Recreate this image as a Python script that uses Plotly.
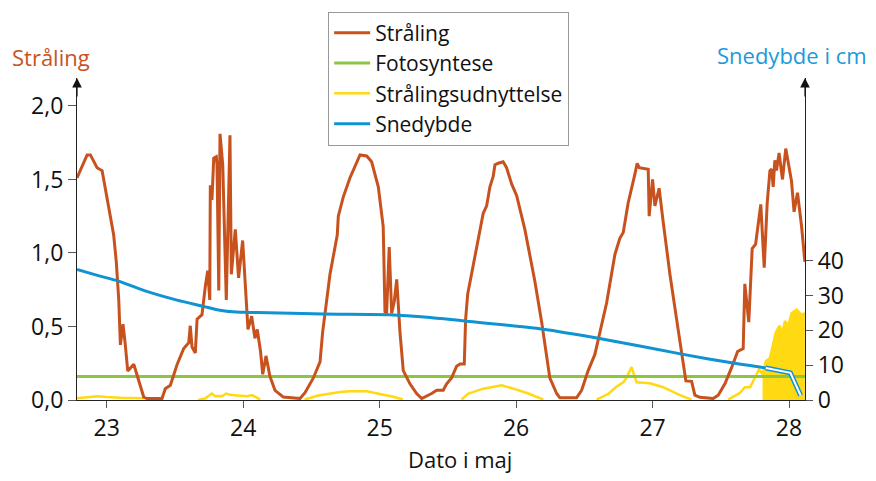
import plotly.graph_objects as go

# ---------------- data ----------------
# Stråling (left axis), x in days of May
straaling_x = [22.782, 22.856, 22.880, 22.929, 22.966, 23.002, 23.051, 23.070, 23.088, 23.100,
               23.119, 23.136, 23.154, 23.198, 23.234, 23.271, 23.295, 23.405, 23.429, 23.466,
               23.515, 23.564, 23.601, 23.612, 23.625, 23.649, 23.662, 23.698, 23.722, 23.740,
               23.755, 23.759, 23.771, 23.784, 23.803, 23.808, 23.821, 23.830, 23.850, 23.876,
               23.903, 23.913, 23.942, 23.966, 23.996, 24.035, 24.062, 24.086, 24.103, 24.127,
               24.143, 24.167, 24.196, 24.233, 24.294, 24.416, 24.453, 24.514, 24.563, 24.582,
               24.636, 24.689, 24.697, 24.733, 24.782, 24.832, 24.856, 24.905, 24.941, 24.990,
               25.026, 25.039, 25.051, 25.070, 25.088, 25.107, 25.125, 25.149, 25.173, 25.222,
               25.271, 25.308, 25.356, 25.381, 25.418, 25.466, 25.491, 25.527, 25.564, 25.588,
               25.620, 25.630, 25.645, 25.674, 25.722, 25.759, 25.784, 25.808, 25.832, 25.845,
               25.869, 25.905, 25.930, 25.967, 26.004, 26.064, 26.137, 26.187, 26.247, 26.297,
               26.321, 26.443, 26.480, 26.528, 26.577, 26.614, 26.663, 26.724, 26.760, 26.785,
               26.821, 26.870, 26.887, 26.902, 26.968, 26.975, 27.000, 27.017, 27.048, 27.078,
               27.127, 27.176, 27.224, 27.244, 27.286, 27.310, 27.347, 27.444, 27.481, 27.530,
               27.579, 27.623, 27.664, 27.676, 27.705, 27.730, 27.755, 27.793, 27.818, 27.840,
               27.860, 27.872, 27.884, 27.896, 27.908, 27.927, 27.952, 27.976, 28.018, 28.037,
               28.062, 28.092, 28.116]
straaling_y = [1.51, 1.667, 1.667, 1.58, 1.56, 1.38, 1.12, 0.94, 0.68, 0.375,
               0.515, 0.375, 0.197, 0.243, 0.13, 0.02, 0.01, 0.01, 0.077, 0.10,
               0.24, 0.35, 0.39, 0.505, 0.36, 0.32, 0.55, 0.58, 0.77, 0.88,
               0.68, 1.46, 1.36, 1.645, 1.655, 1.60, 0.745, 1.81, 1.60, 0.68,
               1.80, 0.855, 1.16, 0.83, 1.085, 0.48, 0.57, 0.42, 0.48, 0.33,
               0.175, 0.30, 0.16, 0.066, 0.02, 0.01, 0.05, 0.15, 0.26, 0.46,
               0.855, 1.12, 1.25, 1.38, 1.51, 1.62, 1.667, 1.66, 1.62, 1.45,
               1.18, 0.60, 0.59, 1.04, 0.59, 0.67, 0.82, 0.46, 0.20, 0.11,
               0.044, 0.01, 0.03, 0.044, 0.066, 0.066, 0.11, 0.15, 0.23, 0.245,
               0.245, 0.55, 0.72, 0.855, 1.10, 1.27, 1.32, 1.45, 1.52, 1.60,
               1.61, 1.62, 1.58, 1.47, 1.39, 1.16, 0.81, 0.53, 0.15, 0.044,
               0.015, 0.015, 0.066, 0.20, 0.31, 0.46, 0.66, 0.99, 1.10, 1.14,
               1.34, 1.535, 1.61, 1.58, 1.57, 1.25, 1.50, 1.32, 1.44, 1.21,
               0.855, 0.55, 0.24, 0.13, 0.127, 0.033, 0.018, 0.01, 0.033, 0.11,
               0.22, 0.33, 0.35, 0.79, 0.53, 1.03, 1.06, 1.33, 0.90, 1.34,
               1.56, 1.57, 1.45, 1.63, 1.56, 1.68, 1.50, 1.71, 1.49, 1.28,
               1.41, 1.18, 0.94]

# Fotosyntese (left axis)
foto_x = [22.782, 28.117]
foto_y = [0.16, 0.16]

# Strålingsudnyttelse (left axis); None = no data
udn_x = [22.782, 22.85, 22.93, 23.0, 23.1, 23.27, None,
         23.67, 23.72, 23.77, 23.795, 23.82, 23.845, 23.875, 23.905, 23.96, 24.03, 24.065, 24.1, 24.125, None,
         24.45, 24.55, 24.709, 24.78, 24.905, 24.99, 25.026, 25.1, 25.17, None,
         25.60, 25.65, 25.76, 25.894, 25.98, 26.09, 26.20, None,
         26.59, 26.68, 26.73, 26.785, 26.81, 26.846, 26.883, 26.98, 27.078, 27.2, 27.286, None,
         27.554, 27.64, 27.676, 27.715, 27.75, 27.78, 27.806, 27.83, 27.86, 27.884, 27.903, 27.93,
         27.952, 27.97, 27.994, 28.018, 28.055, 28.09, 28.116]
udn_y = [0.012, 0.02, 0.026, 0.02, 0.015, 0.012, None,
         0.0, 0.01, 0.044, 0.026, 0.028, 0.026, 0.044, 0.035, 0.03, 0.026, 0.033, 0.015, 0.003, None,
         0.003, 0.03, 0.055, 0.06, 0.06, 0.044, 0.033, 0.022, 0.003, None,
         0.003, 0.044, 0.077, 0.10, 0.077, 0.044, 0.003, None,
         0.003, 0.044, 0.087, 0.12, 0.153, 0.224, 0.12, 0.114, 0.087, 0.033, 0.003, None,
         0.003, 0.048, 0.087, 0.087, 0.153, 0.208, 0.175, 0.263, 0.285, 0.373, 0.46, 0.505,
         0.46, 0.537, 0.505, 0.59, 0.614, 0.58, 0.59]
fill_start = 27.806

# Snedybde (right axis, cm)
sne_x = [22.782, 22.95, 23.075, 23.27, 23.515, 23.71, 23.8, 23.88, 23.95, 24.0, 24.1,
         24.587, 25.075, 25.37, 25.625, 26.187, 26.65, 27.224, 27.59, 27.83]
sne_y = [37.5, 35.6, 34.3, 31.5, 28.7, 26.9, 26.0, 25.5, 25.3, 25.2, 25.15,
         24.7, 24.5, 23.7, 22.7, 20.4, 17.4, 13.1, 10.6, 9.2]
sne_end_x = [27.83, 28.01, 28.085]
sne_end_y = [9.2, 7.8, 1.3]

left_ticks = [0, 0.5, 1.0, 1.5, 2.0]
left_labels = ["0,0", "0,5", "1,0", "1,5", "2,0"]
right_ticks = [0, 10, 20, 30, 40]
day_ticks = [23, 24, 25, 26, 27, 28]

# ---------------- style ----------------
ORANGE = "#c8521e"
GREEN = "#8cc63e"
YELLOW = "#ffd912"
BLUE = "#0f93d2"
FONT = "Open Sans"

fig = go.Figure()

fx = [x for x in udn_x if x is not None and x >= fill_start]
fy = [y for x, y in zip(udn_x, udn_y) if x is not None and x >= fill_start]
fig.add_trace(go.Scatter(x=fx, y=fy, mode="lines", fill="tozeroy", fillcolor=YELLOW,
                         line=dict(color=YELLOW, width=1), showlegend=False, hoverinfo="skip"))
fig.add_trace(go.Scatter(x=udn_x, y=udn_y, mode="lines", name="Strålingsudnyttelse",
                         line=dict(color=YELLOW, width=2.5), legendrank=3))
fig.add_trace(go.Scatter(x=foto_x, y=foto_y, mode="lines", name="Fotosyntese",
                         line=dict(color=GREEN, width=3), legendrank=2))
fig.add_trace(go.Scatter(x=sne_x, y=sne_y, mode="lines", name="Snedybde", yaxis="y2",
                         line=dict(color=BLUE, width=3, shape="spline", smoothing=0.6), legendrank=4))
fig.add_trace(go.Scatter(x=sne_end_x, y=sne_end_y, mode="lines", yaxis="y2", showlegend=False,
                         line=dict(color=BLUE, width=5)))
fig.add_trace(go.Scatter(x=sne_end_x, y=sne_end_y, mode="lines", yaxis="y2", showlegend=False,
                         line=dict(color="white", width=2)))
fig.add_trace(go.Scatter(x=straaling_x, y=straaling_y, mode="lines", name="Stråling",
                         line=dict(color=ORANGE, width=3), legendrank=1))

axis_common = dict(showgrid=False, zeroline=False, showline=True, linecolor="#222",
                   linewidth=1.2, ticks="outside", tickcolor="#555", tickwidth=1.2,
                   tickfont=dict(family=FONT, size=23, color="#111"))

fig.update_layout(
    width=876, height=481,
    margin=dict(l=77, r=71, t=67, b=81),
    paper_bgcolor="white", plot_bgcolor="white",
    font=dict(family=FONT, color="#111"),
    xaxis=dict(range=[22.782, 28.117], tickvals=day_ticks, ticklen=7, **axis_common),
    yaxis=dict(range=[0, 2.19], tickvals=left_ticks, ticktext=left_labels, ticklen=8, **axis_common),
    yaxis2=dict(range=[0, 92.5], tickvals=right_ticks, overlaying="y", side="right",
                ticklen=7, **axis_common),
    legend=dict(x=0.345, y=0.79, xanchor="left", yanchor="bottom",
                bgcolor="white", bordercolor="#999", borderwidth=1,
                itemwidth=36,
                font=dict(family=FONT, size=21, color="#111"), traceorder="normal"),
    showlegend=True,
)

# axis arrows
for xp in (0, 1):
    fig.add_annotation(x=xp, y=1, xref="paper", yref="paper", ax=0, ay=20, axref="pixel",
                       ayref="pixel", text="", showarrow=True, arrowhead=2, arrowsize=1.6,
                       arrowwidth=1.2, arrowcolor="#111", standoff=0)

fig.add_annotation(x=-0.0357, y=1.066, xref="paper", yref="paper", text="Stråling",
                   showarrow=False, xanchor="center", yanchor="middle",
                   font=dict(family=FONT, size=22, color=ORANGE))
fig.add_annotation(x=0.982, y=1.072, xref="paper", yref="paper", text="Snedybde i cm",
                   showarrow=False, xanchor="center", yanchor="middle",
                   font=dict(family=FONT, size=22, color="#1b9bd7"))
fig.add_annotation(x=0.526, y=-0.183, xref="paper", yref="paper", text="Dato i maj",
                   showarrow=False, xanchor="center", yanchor="middle",
                   font=dict(family=FONT, size=22, color="#111"))

fig.write_html("out.html", config={"displayModeBar": False},
               post_script="document.body.style.margin='0';")
